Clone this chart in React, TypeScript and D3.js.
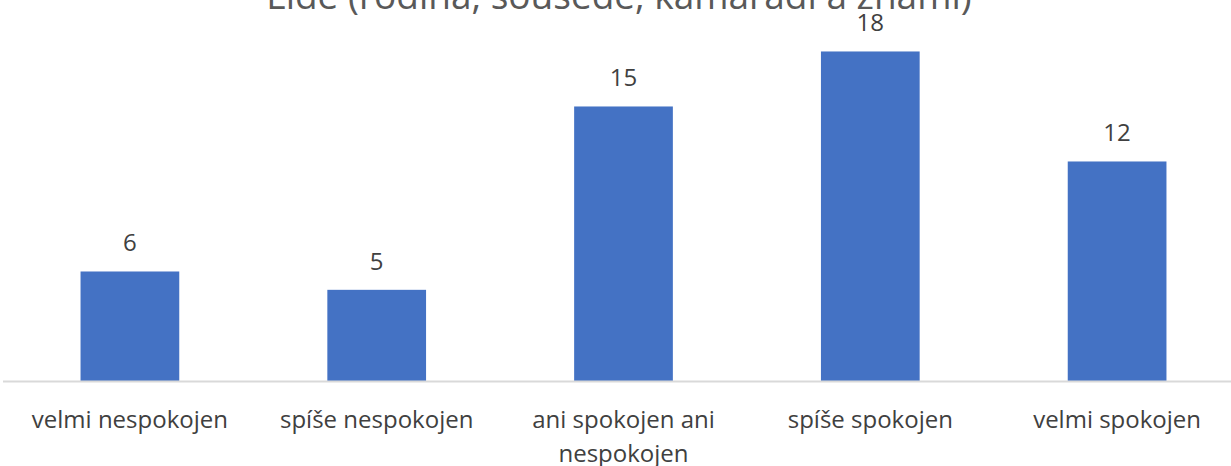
import React from "react";
import * as d3 from "d3";

const categories: string[][] = [
  ["velmi nespokojen"],
  ["spíše nespokojen"],
  ["ani spokojen ani", "nespokojen"],
  ["spíše spokojen"],
  ["velmi spokojen"],
];
const values: number[] = [6, 5, 15, 18, 12];
const title = "Lidé (rodina, sousedé, kamarádi a známí)";

const W = 1231;
const H = 466;
const left = 6.5;
const right = 1240.5;
const baseY = 381.5;
const FONT = "'Open Sans', 'Liberation Sans', sans-serif";

export default function App() {
  const x = d3
    .scaleBand<number>()
    .domain(values.map((_, i) => i))
    .range([left, right])
    .paddingInner(0.6)
    .paddingOuter(0.3);
  const y = d3.scaleLinear().domain([0, 20]).range([baseY, baseY - 366.7]);

  return (
    <svg
      width={W}
      height={H}
      style={{ position: "absolute", left: 0, top: 0, background: "#fff" }}
    >
      <text
        x={619}
        y={9}
        textAnchor="middle"
        fontFamily={FONT}
        fontSize={37}
        fill="#595959"
      >
        {title}
      </text>
      {values.map((v, i) => (
        <g key={i}>
          <rect
            x={x(i)!}
            y={y(v)}
            width={x.bandwidth()}
            height={baseY - y(v)}
            fill="#4472C4"
          />
          <text
            x={x(i)! + x.bandwidth() / 2}
            y={y(v) - 20}
            textAnchor="middle"
            fontFamily={FONT}
            fontSize={24}
            fill="#404040"
          >
            {v}
          </text>
        </g>
      ))}
      <line x1={3} x2={W} y1={baseY} y2={baseY} stroke="#D9D9D9" strokeWidth={2} />
      {categories.map((lines, i) => (
        <text
          key={i}
          textAnchor="middle"
          fontFamily={FONT}
          fontSize={24}
          fill="#404040"
        >
          {lines.map((l, j) => (
            <tspan key={j} x={x(i)! + x.bandwidth() / 2} y={428 + j * 34}>
              {l}
            </tspan>
          ))}
        </text>
      ))}
    </svg>
  );
}
